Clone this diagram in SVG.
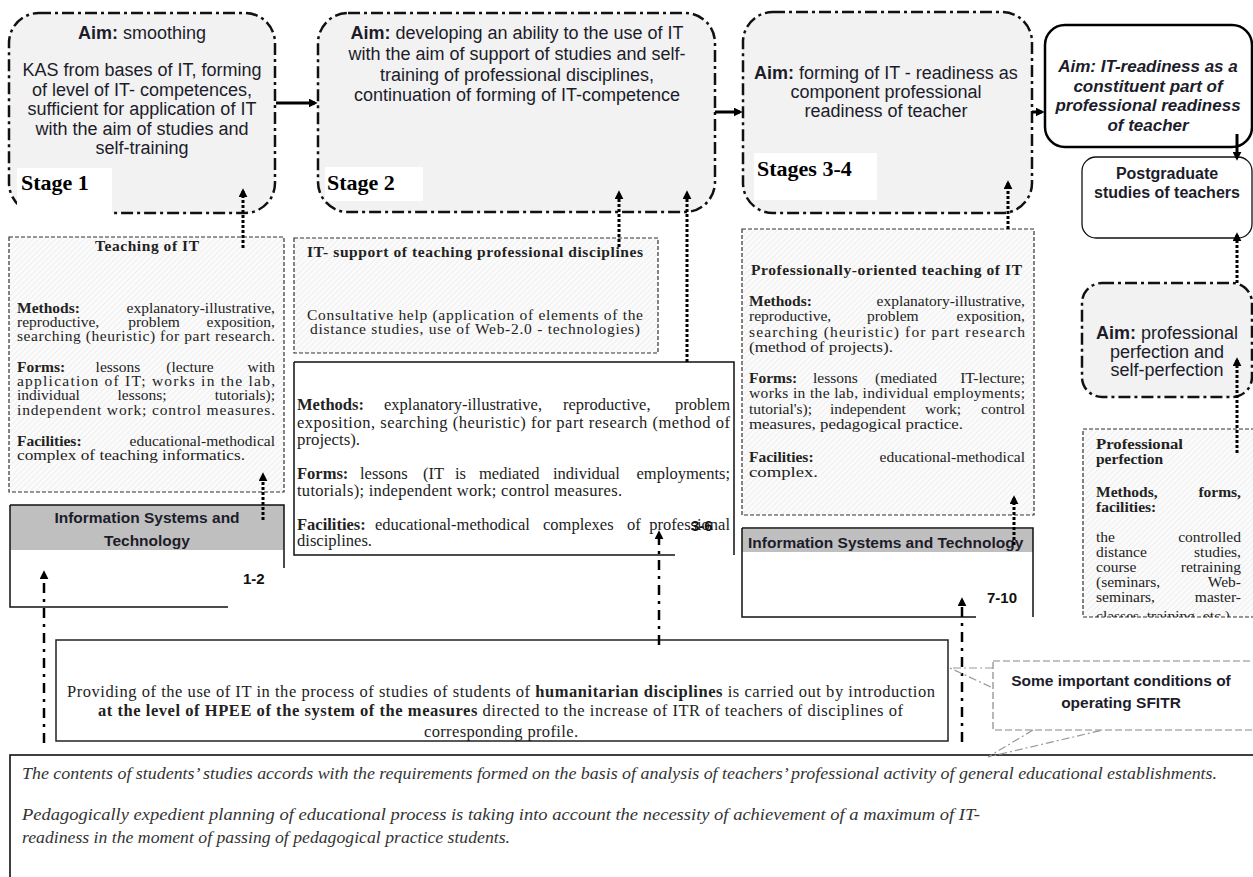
<svg xmlns="http://www.w3.org/2000/svg" width="1253" height="877" viewBox="0 0 1253 877">
<defs>
<pattern id="hatch" width="4" height="4" patternUnits="userSpaceOnUse" patternTransform="rotate(45)">
<rect width="4" height="4" fill="#fbfbfb"/>
<line x1="0" y1="0" x2="0" y2="4" stroke="#e3e3e3" stroke-width="1"/>
</pattern>
<marker id="ah" viewBox="0 0 10 10" refX="7" refY="5" markerWidth="9" markerHeight="9" markerUnits="userSpaceOnUse" orient="auto">
<path d="M0,0 L10,5 L0,10 z" fill="#000"/>
</marker>
<clipPath id="clipPP"><rect x="1083" y="429" width="170" height="188"/></clipPath>
<clipPath id="clipProv"><rect x="56" y="640" width="892" height="101"/></clipPath>
</defs>
<style>
.stage{fill:#f2f2f2;stroke:#111;stroke-width:2.5;stroke-dasharray:12 4 3 4}
.hb{fill:url(#hatch);stroke:#333;stroke-width:1.2;stroke-dasharray:4 2}
.sans{font-family:"Liberation Sans",Arial,sans-serif;fill:#1c1c2a}
.s18{font-size:18px}
.t{font-family:"Liberation Serif","Times New Roman",serif;font-size:15.5px;fill:#222}
.t2{font-family:"Liberation Serif","Times New Roman",serif;font-size:16.5px;fill:#222}
.b{font-weight:bold}
.e{text-anchor:end}
.m{text-anchor:middle}
.lbl{font-family:"Liberation Serif","Times New Roman",serif;font-size:22px;font-weight:bold;fill:#000}
.num{font-family:"Liberation Sans",Arial,sans-serif;font-size:15px;font-weight:bold;fill:#111}
.hdr{font-family:"Liberation Sans",Arial,sans-serif;font-size:15.5px;font-weight:bold;fill:#1c1c2a}
.line{stroke:#111;stroke-width:1.5;fill:none}
.arr{stroke:#000;stroke-width:3;fill:none;marker-end:url(#ah)}
.dot{stroke:#000;stroke-width:3;stroke-dasharray:3 2;fill:none;marker-end:url(#ah)}
.dd{stroke:#000;stroke-width:2.5;stroke-dasharray:10 6 3 6;fill:none;marker-end:url(#ah)}
.ptr{stroke:#999;stroke-width:1.2;stroke-dasharray:8 3 2 3;fill:none}
.it{font-family:"Liberation Serif","Times New Roman",serif;font-size:16.5px;font-style:italic;fill:#333}
</style>

<g id="stage1">
<rect class="stage" x="9" y="13" width="266" height="200" rx="30"/>
<g class="sans s18 m">
<text x="142" y="39"><tspan class="b">Aim:</tspan> smoothing</text>
<text x="142" y="76">KAS from bases of IT, forming</text>
<text x="142" y="95.5">of level of IT- competences,</text>
<text x="142" y="115">sufficient for application of IT</text>
<text x="142" y="134.5">with the aim of studies and</text>
<text x="142" y="154">self-training</text>
</g>
<rect x="17" y="168" width="95" height="47" fill="#fff"/>
<text class="lbl" x="21" y="190">Stage 1</text>
</g>

<g id="stage2">
<rect class="stage" x="318" y="13" width="397" height="199" rx="30"/>
<g class="sans s18 m">
<text x="517" y="39"><tspan class="b">Aim:</tspan> developing an ability to the use of IT</text>
<text x="517" y="60">with the aim of support of studies and self-</text>
<text x="517" y="81">training of professional disciplines,</text>
<text x="517" y="101">continuation of forming of IT-competence</text>
</g>
<rect x="325" y="167" width="98" height="34" fill="#fff"/>
<text class="lbl" x="327" y="190">Stage 2</text>
</g>

<g id="stage3-4">
<rect class="stage" x="743" y="12" width="289" height="201" rx="30"/>
<g class="sans s18 m">
<text x="886" y="79"><tspan class="b">Aim:</tspan> forming of IT - readiness as</text>
<text x="886" y="98">component professional</text>
<text x="886" y="117">readiness of teacher</text>
</g>
<rect x="754" y="153" width="123" height="47" fill="#fff"/>
<text class="lbl" x="757" y="176">Stages 3-4</text>
</g>

<g id="aim-it-readiness">
<rect x="1045" y="25" width="207" height="122" rx="20" fill="#fff" stroke="#000" stroke-width="2.5"/>
<g class="sans m" font-size="17" font-weight="bold" font-style="italic">
<text x="1148" y="72">Aim: IT-readiness as a</text>
<text x="1148" y="91.5">constituent part of</text>
<text x="1148" y="111">professional readiness</text>
<text x="1148" y="130.5">of teacher</text>
</g>
</g>

<g id="postgraduate">
<rect x="1082" y="157" width="170" height="81" rx="14" fill="#fff" stroke="#111" stroke-width="1.3"/>
<g class="sans m" font-size="16" font-weight="bold">
<text x="1167" y="179">Postgraduate</text>
<text x="1167" y="198">studies of teachers</text>
</g>
</g>

<g id="aim-perfection">
<rect class="stage" x="1082" y="283" width="170" height="114" rx="20"/>
<g class="sans s18 m">
<text x="1167" y="339"><tspan class="b">Aim:</tspan> professional</text>
<text x="1167" y="357.5">perfection and</text>
<text x="1167" y="376">self-perfection</text>
</g>
</g>

<g id="professional-perfection">
<rect class="hb" x="1083" y="429" width="172" height="188"/>
<g clip-path="url(#clipPP)">
<text class="t b" x="1096" y="449" textLength="87" lengthAdjust="spacingAndGlyphs">Professional</text>
<text class="t b" x="1096" y="464">perfection</text>
<text class="t b" x="1096" y="497">Methods,</text><text class="t b e" x="1241" y="497">forms,</text>
<text class="t b" x="1096" y="512">facilities:</text>
<text class="t" x="1096" y="542">the</text><text class="t e" x="1241" y="542">controlled</text>
<text class="t" x="1096" y="557">distance</text><text class="t e" x="1241" y="557">studies,</text>
<text class="t" x="1096" y="572">course</text><text class="t e" x="1241" y="572">retraining</text>
<text class="t" x="1096" y="587">(seminars,</text><text class="t e" x="1241" y="587">Web-</text>
<text class="t" x="1096" y="602">seminars,</text><text class="t e" x="1241" y="602">master-</text>
<text class="t" x="1096" y="621">classes, training, etc.)</text>
</g>
</g>

<g id="teaching-it">
<rect class="hb" x="9" y="237" width="275" height="255"/>
<text class="t b m" x="147" y="251" textLength="104">Teaching of IT</text>
<text class="t b" x="17" y="313">Methods:</text><text class="t e" x="275" y="313">explanatory-illustrative,</text>
<text class="t" x="17" y="327">reproductive,</text><text class="t m" x="154" y="327">problem</text><text class="t e" x="275" y="327">exposition,</text>
<text class="t" x="17" y="341" textLength="258" lengthAdjust="spacing">searching (heuristic) for part research.</text>
<text class="t b" x="17" y="372">Forms:</text><text class="t m" x="118" y="372">lessons</text><text class="t m" x="190" y="372">(lecture</text><text class="t e" x="275" y="372">with</text>
<text class="t" x="17" y="386" textLength="258" lengthAdjust="spacing">application of IT; works in the lab,</text>
<text class="t" x="17" y="400">individual</text><text class="t m" x="142" y="400">lessons;</text><text class="t e" x="275" y="400">tutorials);</text>
<text class="t" x="17" y="415" textLength="258" lengthAdjust="spacing">independent work; control measures.</text>
<text class="t b" x="17" y="446">Facilities:</text><text class="t e" x="275" y="446">educational-methodical</text>
<text class="t" x="17" y="460" textLength="228" lengthAdjust="spacingAndGlyphs">complex of teaching informatics.</text>
</g>

<g id="is-1-2">
<rect x="10" y="505" width="274" height="45" fill="#bfbfbf"/>
<path class="line" d="M10,505 H284 V568 M10,505 V607 H228"/>
<text class="hdr m" x="147" y="523">Information Systems and</text>
<text class="hdr m" x="147" y="546">Technology</text>
<text class="num" x="243" y="584">1-2</text>
</g>

<g id="it-support">
<rect class="hb" x="294" y="238" width="364" height="115"/>
<text class="t b" x="307" y="257" textLength="336" lengthAdjust="spacing">IT- support of teaching professional disciplines</text>
<text class="t" x="307" y="320" textLength="336" lengthAdjust="spacing">Consultative help (application of elements of the</text>
<text class="t" x="310" y="334" textLength="330" lengthAdjust="spacing">distance studies, use of Web-2.0 - technologies)</text>
</g>

<g id="methods-3-6">
<rect x="294" y="362" width="440" height="193" fill="#fff"/>
<path class="line" d="M294,362 H734 V555 M294,362 V555 H675"/>
<text class="t2 b" x="297" y="410">Methods:</text><text class="t2" x="384" y="410">explanatory-illustrative,</text><text class="t2" x="563" y="410">reproductive,</text><text class="t2 e" x="730" y="410">problem</text>
<text class="t2" x="297" y="428" textLength="433" lengthAdjust="spacing">exposition, searching (heuristic) for part research (method of</text>
<text class="t2" x="297" y="445" textLength="63" lengthAdjust="spacingAndGlyphs">projects).</text>
<text class="t2 b" x="297" y="479">Forms:</text><text class="t2" x="360" y="479">lessons</text><text class="t2" x="423" y="479">(IT</text><text class="t2" x="455" y="479">is</text><text class="t2" x="479" y="479">mediated</text><text class="t2" x="553" y="479">individual</text><text class="t2 e" x="730" y="479">employments;</text>
<text class="t2" x="297" y="496" textLength="325" lengthAdjust="spacing">tutorials); independent work; control measures.</text>
<text class="t2 b" x="297" y="530">Facilities:</text><text class="t2" x="375" y="530">educational-methodical</text><text class="t2" x="543" y="530">complexes</text><text class="t2" x="627" y="530">of</text><text class="t2 e" x="730" y="530">professional</text>
<text class="t2" x="297" y="546" textLength="75" lengthAdjust="spacingAndGlyphs">disciplines.</text>
<text class="num" x="691" y="531">3-6</text>
</g>

<g id="professionally-oriented">
<rect class="hb" x="742" y="229" width="292" height="286"/>
<text class="t b" x="751" y="275" textLength="271" lengthAdjust="spacing">Professionally-oriented teaching of IT</text>
<text class="t b" x="749" y="306">Methods:</text><text class="t e" x="1025" y="306">explanatory-illustrative,</text>
<text class="t" x="749" y="321">reproductive,</text><text class="t" x="867" y="321">problem</text><text class="t e" x="1025" y="321">exposition,</text>
<text class="t" x="749" y="337" textLength="276" lengthAdjust="spacing">searching (heuristic) for part research</text>
<text class="t" x="749" y="352" textLength="144" lengthAdjust="spacingAndGlyphs">(method of projects).</text>
<text class="t b" x="749" y="383">Forms:</text><text class="t" x="813" y="383">lessons</text><text class="t" x="875" y="383">(mediated</text><text class="t e" x="1025" y="383">IT-lecture;</text>
<text class="t" x="749" y="398" textLength="276" lengthAdjust="spacing">works in the lab, individual employments;</text>
<text class="t" x="749" y="414">tutorial's);</text><text class="t" x="830" y="414">independent</text><text class="t" x="925" y="414">work;</text><text class="t e" x="1025" y="414">control</text>
<text class="t" x="749" y="429" textLength="214" lengthAdjust="spacingAndGlyphs">measures, pedagogical practice.</text>
<text class="t b" x="749" y="462">Facilities:</text><text class="t e" x="1025" y="462">educational-methodical</text>
<text class="t" x="749" y="477" textLength="69" lengthAdjust="spacingAndGlyphs">complex.</text>
</g>

<g id="is-7-10">
<rect x="742" y="529" width="291" height="23" fill="#bfbfbf"/>
<path class="line" d="M742,528 H1033 V617 M742,528 V617 H976"/>
<text class="hdr" x="748" y="548">Information Systems and Technology</text>
<text class="num" x="987" y="603">7-10</text>
</g>

<g id="providing">
<rect x="56" y="640" width="892" height="101" fill="#fff" stroke="#222" stroke-width="1.5"/>
<g clip-path="url(#clipProv)">
<text class="t2" x="67" y="697" textLength="868" lengthAdjust="spacing">Providing of the use of IT in the process of studies of students of <tspan class="b">humanitarian disciplines</tspan> is carried out by introduction</text>
<text class="t2" x="98" y="716" textLength="805" lengthAdjust="spacing"><tspan class="b">at the level of HPEE of the system of the measures</tspan> directed to the increase of ITR of teachers of disciplines of</text>
<text class="t2" x="424" y="737" textLength="154" lengthAdjust="spacing">corresponding profile.</text>
</g>
</g>

<g id="callout">
<rect x="993" y="661" width="265" height="69" fill="#fff" stroke="#888" stroke-width="1.2" stroke-dasharray="7 3"/>
<text class="hdr m" x="1121" y="685.5">Some important conditions of</text>
<text class="hdr m" x="1121" y="707.5">operating SFITR</text>
</g>

<g id="conditions">
<rect x="10" y="755" width="1250" height="130" fill="#fff" stroke="#000" stroke-width="1.5"/>
<text class="it" x="22" y="779" textLength="1195" lengthAdjust="spacingAndGlyphs">The contents of students’ studies accords with the requirements formed on the basis of analysis of teachers’ professional activity of general educational establishments.</text>
<text class="it" x="22" y="820" textLength="958" lengthAdjust="spacingAndGlyphs">Pedagogically expedient planning of educational process is taking into account the necessity of achievement of a maximum of IT-</text>
<text class="it" x="22" y="843" textLength="488" lengthAdjust="spacingAndGlyphs">readiness in the moment of passing of pedagogical practice students.</text>
</g>

<g id="connectors">
<line class="arr" x1="276" y1="103" x2="315" y2="103"/>
<line class="arr" x1="715" y1="112" x2="740" y2="112"/>
<line class="arr" x1="1032" y1="112" x2="1042" y2="112"/>
<line class="arr" stroke-width="2.5" x1="1237" y1="134" x2="1237" y2="158"/>
<line class="dot" x1="1237" y1="283" x2="1237" y2="235"/>
<line class="dot" x1="1237" y1="453" x2="1237" y2="360"/>
<line class="dot" x1="243" y1="248" x2="243" y2="191"/>
<line class="dot" x1="263" y1="520" x2="263" y2="475"/>
<line class="dot" x1="619" y1="247" x2="619" y2="193"/>
<line class="dot" x1="687" y1="362" x2="687" y2="193"/>
<line class="dot" x1="1008" y1="229" x2="1008" y2="183"/>
<line class="dot" x1="1014" y1="545" x2="1014" y2="498"/>
<line class="dd" x1="44" y1="743" x2="44" y2="573"/>
<line class="dd" x1="659" y1="645" x2="659" y2="533"/>
<line class="dd" x1="962" y1="742" x2="962" y2="600"/>
<path class="ptr" d="M993,668 L950,668 L993,688"/>
<path class="ptr" d="M1033,730 L988,757 L1103,730"/>
</g>
</svg>
